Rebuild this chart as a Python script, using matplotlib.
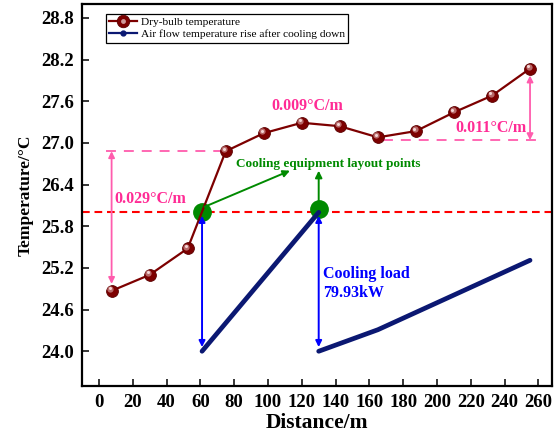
import matplotlib
matplotlib.use('Agg')
import matplotlib.pyplot as plt
import matplotlib.transforms as mtransforms
from matplotlib.lines import Line2D
from matplotlib.legend_handler import HandlerTuple
import numpy as np

# Dry-bulb temperature along the tunnel
distance = [7.5, 30, 52.5, 75, 97.5, 120, 142.5, 165, 187.5, 210, 232.5, 255]
dry_bulb = [24.87, 25.10, 25.48, 26.88, 27.14, 27.29, 27.24, 27.08, 27.17, 27.44, 27.68, 28.07]

# Air temperature after each cooling unit (two separate runs)
rise1_x = [61, 130]
rise1_y = [24.0, 26.0]
rise2_x = [130, 165, 255]
rise2_y = [24.0, 24.31, 25.31]

cooling_x = [61, 130]
cooling_y = [26.0, 26.05]
limit_temp = 26.0

x_ticks = list(range(0, 261, 20))
y_ticks = [24.0, 24.6, 25.2, 25.8, 26.4, 27.0, 27.6, 28.2, 28.8]

plt.rcParams['font.family'] = ['Liberation Serif', 'DejaVu Serif']

MAROON = '#7d0000'
NAVY = '#0b1872'
PINK_TXT = '#ff2b95'
PINK_LN = '#ff5cad'
GREEN = '#008a00'
BLUE = '#0000ff'

fig = plt.figure(figsize=(5.59, 4.43), dpi=100)
ax = fig.add_axes([0.1467, 0.1287, 0.8408, 0.8623])

# limit line
ax.axhline(limit_temp, color='#ff0000', lw=1.5, ls=(0, (3.7, 2.3)), zorder=2)

# cooling units
ax.plot(cooling_x, cooling_y, 'o', color=GREEN, ms=12.5, zorder=3)

# air flow after cooling
ax.plot(rise1_x, rise1_y, '-', color=NAVY, lw=3.4, solid_capstyle='round', zorder=4)
ax.plot(rise2_x, rise2_y, '-', color=NAVY, lw=3.4, solid_capstyle='round', zorder=4)

# dry bulb with shaded balls
ax.plot(distance, dry_bulb, '-', color=MAROON, lw=1.6, zorder=5)
ax.plot(distance, dry_bulb, 'o', color=MAROON, ms=8.5, mec='#5a0000', mew=0.6, zorder=6)
shift = mtransforms.offset_copy(ax.transData, fig=fig, x=-1.0, y=1.4, units='points')
ax.plot(distance, dry_bulb, 'o', color='#b86a6a', ms=4.5, mew=0, transform=shift, zorder=7)
shift2 = mtransforms.offset_copy(ax.transData, fig=fig, x=-1.2, y=1.8, units='points')
ax.plot(distance, dry_bulb, 'o', color='#f4d6d6', ms=2.2, mew=0, transform=shift2, zorder=8)

# cooling load arrows
for cx in cooling_x:
    ax.annotate('', xy=(cx, 24.06), xytext=(cx, 25.95),
                arrowprops=dict(arrowstyle='<|-|>', color=BLUE, lw=1.4,
                                mutation_scale=9, shrinkA=0, shrinkB=0), zorder=9)
ax.text(132.5, 24.97, 'Cooling load\n79.93kW', color=BLUE, fontsize=11.5,
        fontweight='bold', ha='left', va='center', linespacing=1.25)

# layout point pointers
ax.annotate('', xy=(113, 26.6), xytext=(62.5, 26.08),
            arrowprops=dict(arrowstyle='-|>', color=GREEN, lw=1.4,
                            mutation_scale=10, shrinkA=0, shrinkB=0), zorder=9)
ax.annotate('', xy=(130, 26.6), xytext=(130, 26.15),
            arrowprops=dict(arrowstyle='-|>', color=GREEN, lw=1.4,
                            mutation_scale=10, shrinkA=0, shrinkB=0), zorder=9)
ax.text(135.5, 26.7, 'Cooling equipment layout points', color=GREEN, fontsize=9.5,
        fontweight='bold', ha='center', va='center')

# gradient markers
ax.plot([4, 74], [26.88, 26.88], color=PINK_LN, lw=1.3, ls=(0, (5.5, 4.4)), zorder=2)
ax.annotate('', xy=(7.5, 24.97), xytext=(7.5, 26.88),
            arrowprops=dict(arrowstyle='<|-|>', color=PINK_LN, lw=1.3,
                            mutation_scale=9, shrinkA=0, shrinkB=0), zorder=3)
ax.text(9, 26.19, '0.029°C/m', color=PINK_TXT, fontsize=11.5, fontweight='bold',
        ha='left', va='center')

ax.text(123, 27.53, '0.009°C/m', color=PINK_TXT, fontsize=11.5, fontweight='bold',
        ha='center', va='center')

ax.plot([168, 261], [27.04, 27.04], color=PINK_LN, lw=1.3, ls=(0, (5.5, 4.4)), zorder=2)
ax.annotate('', xy=(255, 27.04), xytext=(255, 27.97),
            arrowprops=dict(arrowstyle='<|-|>', color=PINK_LN, lw=1.3,
                            mutation_scale=9, shrinkA=0, shrinkB=0), zorder=3)
ax.text(211, 27.21, '0.011°C/m', color=PINK_TXT, fontsize=11.5, fontweight='bold',
        ha='left', va='center')

# axes
ax.set_xlim(-10, 268)
ax.set_ylim(23.5, 29.0)
ax.set_xticks(x_ticks)
ax.set_yticks(y_ticks)
ax.set_yticklabels(['%.1f' % v for v in y_ticks])
ax.tick_params(direction='in', length=5, width=1.1, labelsize=13.5, pad=6)
for lab in ax.get_xticklabels() + ax.get_yticklabels():
    lab.set_fontweight('bold')
for sp in ax.spines.values():
    sp.set_linewidth(1.6)

ax.set_xlabel('Distance/m', fontsize=15.5, fontweight='bold', labelpad=1)
ax.set_ylabel('Temperature/°C', fontsize=12.5, fontweight='bold', labelpad=5)

# legend
h_dry = Line2D([], [], color=MAROON, lw=1.6, marker='o', ms=9, mec='#5a0000', mew=0.6)
h_dry_hi = Line2D([], [], ls='none', marker='o', color='#d09a9a', ms=3.5, mew=0)
h_air = Line2D([], [], color=NAVY, lw=1.6, marker='o', ms=3.5)
leg = ax.legend([(h_dry, h_dry_hi), h_air],
                ['Dry-bulb temperature', 'Air flow temperature rise after cooling down'],
                handler_map={tuple: HandlerTuple(ndivide=1, pad=0)},
                loc='upper left', bbox_to_anchor=(0.05, 0.975), fontsize=8.2,
                frameon=True, fancybox=False, edgecolor='black', framealpha=1,
                borderpad=0.3, labelspacing=0.2, handlelength=2.5,
                handletextpad=0.3, borderaxespad=0)
leg.get_frame().set_linewidth(0.9)

fig.savefig('out.png', dpi=100)
